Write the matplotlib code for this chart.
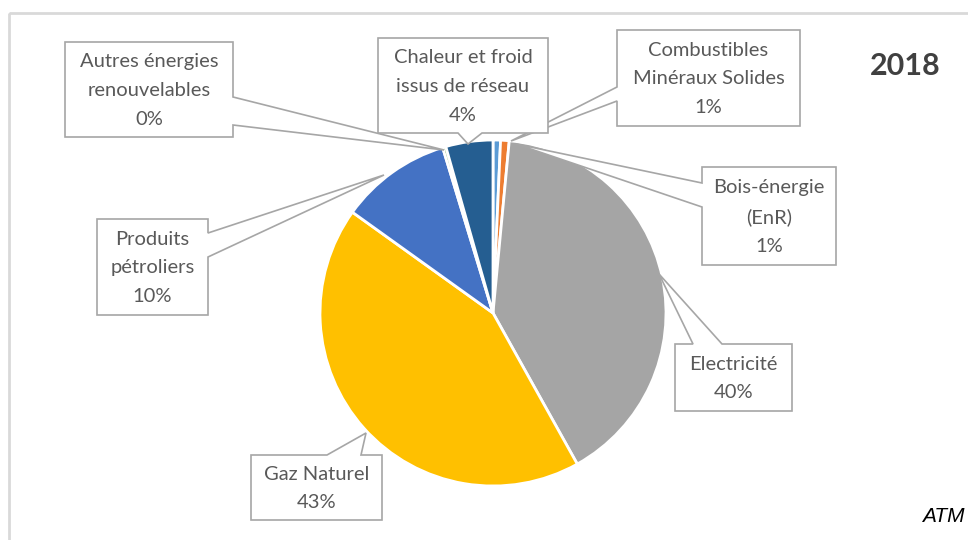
import matplotlib
matplotlib.use("Agg")
import matplotlib.pyplot as plt
from matplotlib.patches import Polygon, Rectangle

# data (clockwise from 12 o'clock)
categories = ["Combustibles\nMinéraux Solides", "Bois-énergie\n(EnR)", "Electricité",
              "Gaz Naturel", "Produits\npétroliers", "Autres énergies\nrenouvelables",
              "Chaleur et froid\nissus de réseau"]
values = [0.7, 0.8, 40.4, 43.0, 10.4, 0.3, 4.4]
colors = ["#5B9BD5", "#ED7D31", "#A5A5A5", "#FFC000", "#4472C4", "#70AD47", "#255E91"]
year = "2018"
source = "ATM"

# callout layout in pixels (x0, y0, x1, y1, side, a, b, tip)
callouts = [
    (617, 30, 800, 126, "left", 87, 101, (511, 141)),
    (702, 167, 836, 265, "left", 183, 207, (516, 144)),
    (675, 344, 792, 411, "top", 693, 722, (659, 274)),
    (251, 455, 382, 520, "top", 327, 361, (366, 433)),
    (97, 219, 208, 315, "right", 233, 257, (384, 175)),
    (65, 42, 233, 137, "right", 97, 125, (444, 150)),
    (378, 38, 548, 133, "bottom", 458, 482, (468, 144)),
]

plt.rcParams["font.family"] = ["Lato", "DejaVu Sans"]
fig = plt.figure(figsize=(9.68, 5.4), dpi=100)
ax = fig.add_axes([0, 0, 1, 1])

ax.pie(values, colors=colors, startangle=-90, counterclock=True,
       center=(493, 313), radius=173, frame=True,
       wedgeprops=dict(edgecolor="white", linewidth=2, zorder=2))
ax.set_xlim(0, 968)
ax.set_ylim(540, 0)
ax.set_aspect("auto")
ax.axis("off")

ax.add_patch(Rectangle((9, 13), 980, 560, fill=False, ec="#D9D9D9", lw=2, zorder=1))

total = sum(values)
for cat, v, (x0, y0, x1, y1, side, a, b, tip) in zip(categories, values, callouts):
    if side == "right":
        verts = [(x0, y0), (x1, y0), (x1, a), tip, (x1, b), (x1, y1), (x0, y1)]
    elif side == "left":
        verts = [(x0, y0), (x1, y0), (x1, y1), (x0, y1), (x0, b), tip, (x0, a)]
    elif side == "top":
        verts = [(x0, y0), (a, y0), tip, (b, y0), (x1, y0), (x1, y1), (x0, y1)]
    else:
        verts = [(x0, y0), (x1, y0), (x1, y1), (b, y1), tip, (a, y1), (x0, y1)]
    ax.add_patch(Polygon(verts, closed=True, fc="white", ec="#A6A6A6", lw=1.2, zorder=3))
    pct = "%d%%" % round(v / total * 100)
    ax.text((x0 + x1) / 2, (y0 + y1) / 2 + 1, cat + "\n" + pct, ha="center", va="center",
            fontsize=14.5, color="#595959", linespacing=1.85, zorder=4)

ax.text(905, 66, year, ha="center", va="center", fontsize=22, fontweight="bold", color="#404040")
ax.text(965, 517, source, ha="right", va="center", fontsize=15, style="italic",
        color="black", family="Liberation Sans")

fig.savefig("out.png", dpi=100)
